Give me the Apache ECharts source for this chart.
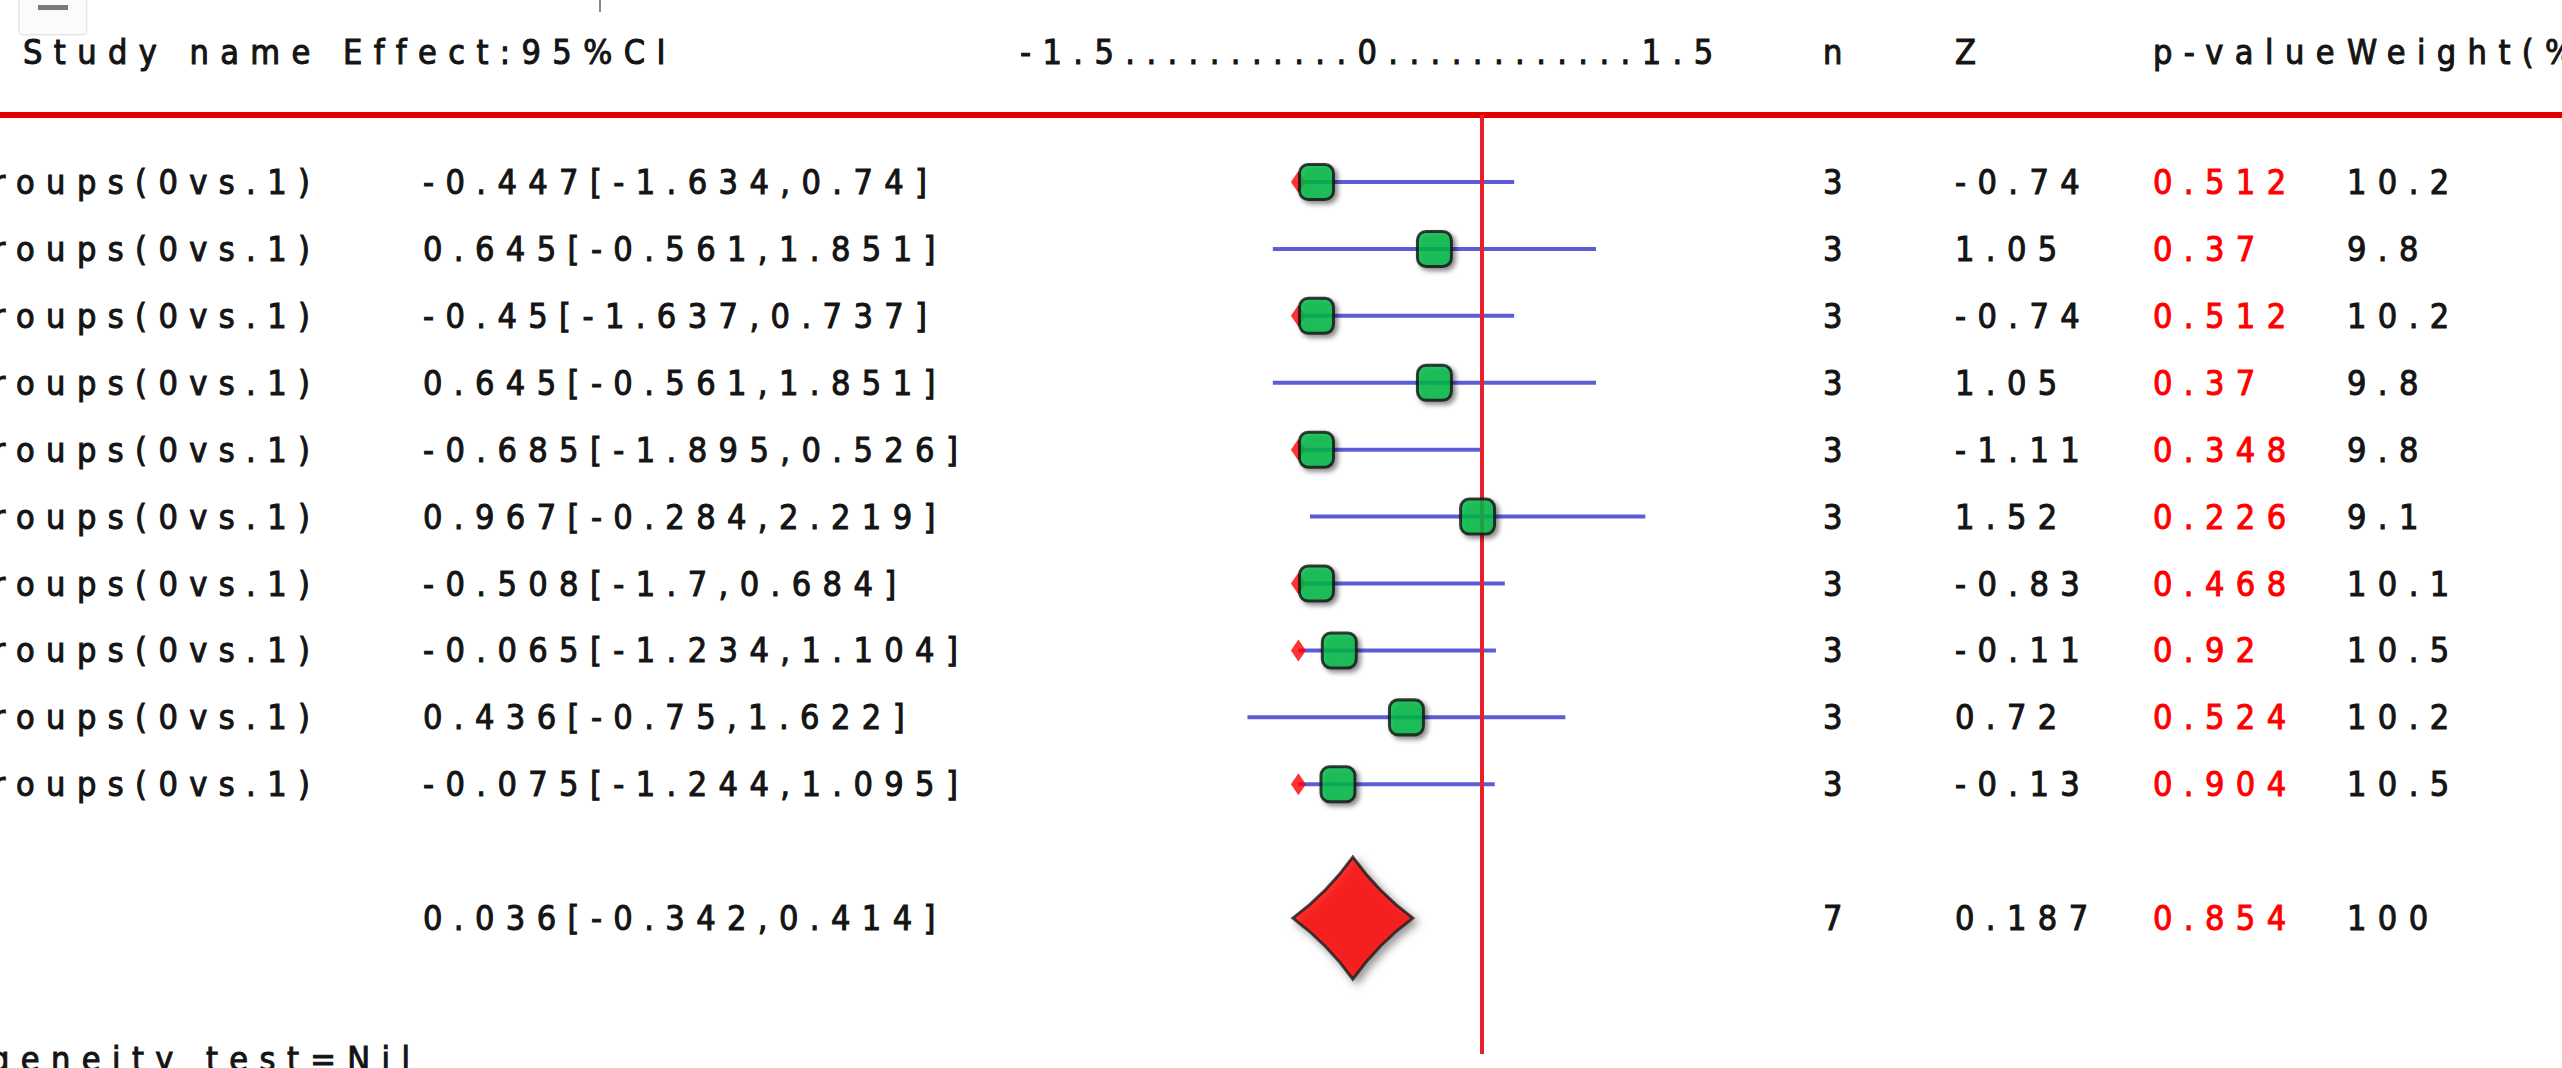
<!DOCTYPE html>
<html>
<head>
<meta charset="utf-8">
<script src="https://cdn.jsdelivr.net/npm/echarts@6/dist/echarts.min.js"></script>
<style>
  html, body { margin: 0; padding: 0; background: #ffffff; }
  #main { width: 2562px; height: 1068px; }
</style>
</head>
<body>
<div id="main"></div>
<script>
// ---------------- data ----------------
const studyNames = ['Groups(0vs.1)', 'Groups(0vs.1)', 'Groups(0vs.1)', 'Groups(0vs.1)', 'Groups(0vs.1)',
                    'Groups(0vs.1)', 'Groups(0vs.1)', 'Groups(0vs.1)', 'Groups(0vs.1)', 'Groups(0vs.1)'];
const effect  = [-0.447, 0.645, -0.45, 0.645, -0.685, 0.967, -0.508, -0.065, 0.436, -0.075];
const ciLow   = [-1.634, -0.561, -1.637, -0.561, -1.895, -0.284, -1.7, -1.234, -0.75, -1.244];
const ciHigh  = [0.74, 1.851, 0.737, 1.851, 0.526, 2.219, 0.684, 1.104, 1.622, 1.095];
const nVals   = [3, 3, 3, 3, 3, 3, 3, 3, 3, 3];
const zVals   = [-0.74, 1.05, -0.74, 1.05, -1.11, 1.52, -0.83, -0.11, 0.72, -0.13];
const pVals   = [0.512, 0.37, 0.512, 0.37, 0.348, 0.226, 0.468, 0.92, 0.524, 0.904];
const weights = [10.2, 9.8, 10.2, 9.8, 9.8, 9.1, 10.1, 10.5, 10.2, 10.5];

// positions of the marks as they are drawn in the figure (the source clips long left whiskers)
const drawnMid  = [-0.235, 0.645, -0.235, 0.645, -0.235, 0.967, -0.235, -0.065, 0.436, -0.075];
const drawnLow  = [-0.37, -0.561, -0.37, -0.561, -0.37, -0.284, -0.37, -0.37, -0.75, -0.37];
const drawnHigh = [1.24, 1.851, 1.24, 1.851, 0.99, 2.219, 1.17, 1.104, 1.622, 1.095];

const pooledEffect = 0.036, pooledLow = -0.342, pooledHigh = 0.414;
const pooledN = 7, pooledZ = 0.187, pooledP = 0.854, pooledWeight = 100;

const headers = ['Study name Effect:95%CI', 'n', 'Z', 'p-value', 'Weight(%)'];
const axisTicks = ['-1.5', '0', '1.5'];
const footerText = 'Heterogeneity test=Nil';
const refLine = 1;

// ---------------- layout ----------------
const W = 2562, H = 1068;
const FS = 34, WEIGHT = 'normal';
const BLACK = '#141414', RED = '#ff0000';

// choose a condensed face if present, then fit letter spacing so the header spans its width
const mctx = document.createElement('canvas').getContext('2d');
function measure(font, s) { mctx.font = WEIGHT + ' ' + FS + 'px ' + font; return mctx.measureText(s).width; }
let FAMILY = '"DejaVu Sans Condensed"';
if (Math.abs(measure(FAMILY + ', monospace', headers[0]) - measure('monospace', headers[0])) < 1) {
  FAMILY = '"DejaVu Sans"';
}
const FONT = WEIGHT + ' ' + FS + 'px ' + FAMILY + ', sans-serif';
const headerSpan = 642; // width of the header string in the picture
const SPACING = (headerSpan - measure(FAMILY, headers[0])) / (headers[0].length - 1);
const styleEl = document.createElement('style');
styleEl.textContent = '#main text { letter-spacing: ' + SPACING.toFixed(2) + 'px; }';
document.head.appendChild(styleEl);
function spanned(s) { return measure(FAMILY, s) + SPACING * (s.length - 1); }

const col = { effect: 423, axis: 1020, n: 1823, z: 1955, p: 2153, w: 2347 };
const nameRightEdge = 310, footerRightEdge = 410;
const headerRow = -1.95, ruleRow = -1, pooledRow = 11, footerRow = 13.1, lineBottom = 13.03;

const axisHeader = axisTicks[0] + '.'.repeat(11) + axisTicks[1] + '.'.repeat(12) + axisTicks[2];

const textRows = [];
function addText(x, y, text, color) { textRows.push({ x, y, text: String(text), color: color || BLACK }); }
addText(23, headerRow, headers[0]);
addText(col.axis, headerRow, axisHeader);
addText(col.n, headerRow, headers[1]);
addText(col.z, headerRow, headers[2]);
addText(col.p, headerRow, headers[3]);
addText(col.w, headerRow, headers[4]);
for (let i = 0; i < effect.length; i++) {
  addText(nameRightEdge - spanned(studyNames[i]), i, studyNames[i]);
  addText(col.effect, i, effect[i] + '[' + ciLow[i] + ',' + ciHigh[i] + ']');
  addText(col.n, i, nVals[i]);
  addText(col.z, i, zVals[i]);
  addText(col.p, i, pVals[i], RED);
  addText(col.w, i, weights[i]);
}
addText(col.effect, pooledRow, pooledEffect + '[' + pooledLow + ',' + pooledHigh + ']');
addText(col.n, pooledRow, pooledN);
addText(col.z, pooledRow, pooledZ);
addText(col.p, pooledRow, pooledP, RED);
addText(col.w, pooledRow, pooledWeight);
addText(footerRightEdge - spanned(footerText), footerRow, footerText);

const yMin = -2.72, yMax = 13.24;

const chart = echarts.init(document.getElementById('main'), null, { renderer: 'svg', width: W, height: H });
chart.setOption({
  animation: false,
  backgroundColor: '#ffffff',
  grid: [
    { left: 0, right: 0, top: 0, bottom: 0 },
    { left: 1147, width: 536, top: 0, bottom: 0 }
  ],
  xAxis: [
    { gridIndex: 0, type: 'value', min: 0, max: W, show: false },
    { gridIndex: 1, type: 'value', min: -1.5, max: 2.5, show: false }
  ],
  yAxis: [
    { gridIndex: 0, type: 'value', inverse: true, min: yMin, max: yMax, show: false },
    { gridIndex: 1, type: 'value', inverse: true, min: yMin, max: yMax, show: false }
  ],
  graphic: [
    { type: 'rect', left: 18, top: -4, shape: { width: 68, height: 38, r: 4 },
      style: { fill: '#fbfbfb', stroke: '#e6e6e6', lineWidth: 1.5 } },
    { type: 'rect', left: 38, top: 5, shape: { width: 30, height: 5 }, style: { fill: '#7a7a7a' } },
    { type: 'rect', left: 599, top: 0, shape: { width: 2, height: 12 }, style: { fill: '#888' } }
  ],
  series: [
    { // table texts
      type: 'custom', xAxisIndex: 0, yAxisIndex: 0, clip: false, z: 10,
      data: textRows.map(r => [r.x, r.y]),
      renderItem: function (params, api) {
        const r = textRows[params.dataIndex];
        const p = api.coord([api.value(0), api.value(1)]);
        return { type: 'text', x: p[0], y: p[1],
          style: { text: r.text, fill: r.color, stroke: r.color, lineWidth: 1,
                   font: FONT, align: 'left', verticalAlign: 'middle' } };
      }
    },
    { // red header rule
      type: 'line', xAxisIndex: 0, yAxisIndex: 0, symbol: 'none', z: 3,
      data: [[0, ruleRow], [W, ruleRow]],
      lineStyle: { color: '#e20000', width: 6 }
    },
    { // confidence interval whiskers
      type: 'custom', xAxisIndex: 1, yAxisIndex: 1, clip: false, z: 2,
      data: effect.map((e, i) => [drawnLow[i], drawnHigh[i], i]),
      renderItem: function (params, api) {
        const a = api.coord([api.value(0), api.value(2)]);
        const b = api.coord([api.value(1), api.value(2)]);
        return { type: 'line', shape: { x1: a[0], y1: a[1], x2: b[0], y2: b[1] },
          style: { stroke: '#4a4ad4', lineWidth: 4, opacity: 0.9 } };
      }
    },
    { // reference line
      type: 'line', xAxisIndex: 1, yAxisIndex: 1, symbol: 'none', z: 4,
      data: [[refLine, ruleRow], [refLine, lineBottom]],
      lineStyle: { color: '#e8202a', width: 4 }
    },
    { // clipped whisker markers
      type: 'scatter', xAxisIndex: 1, yAxisIndex: 1, z: 5,
      symbol: 'diamond', symbolSize: [15, 22],
      data: effect.map((e, i) => [drawnLow[i], i]).filter((d, i) => drawnLow[i] !== ciLow[i]),
      itemStyle: { color: '#ff0000' }
    },
    { // study effects
      type: 'scatter', xAxisIndex: 1, yAxisIndex: 1, z: 6,
      symbol: 'roundRect', symbolSize: [34, 35],
      data: effect.map((e, i) => [drawnMid[i], i]),
      itemStyle: { color: '#00bb48', borderColor: '#111111', borderWidth: 3,
        shadowBlur: 5, shadowColor: 'rgba(0,0,0,0.55)', shadowOffsetX: 3, shadowOffsetY: 3 }
    },
    { // pooled effect
      type: 'scatter', xAxisIndex: 1, yAxisIndex: 1, z: 6,
      symbol: 'path://M50,0 Q71,29 100,50 Q71,71 50,100 Q29,71 0,50 Q29,29 50,0 Z',
      symbolSize: [120, 122],
      data: [[pooledEffect, pooledRow]],
      itemStyle: { color: '#ff0000', borderColor: '#1a1a1a', borderWidth: 3,
        shadowBlur: 8, shadowColor: 'rgba(0,0,0,0.5)', shadowOffsetX: 4, shadowOffsetY: 4 }
    }
  ]
});
</script>
</body>
</html>
